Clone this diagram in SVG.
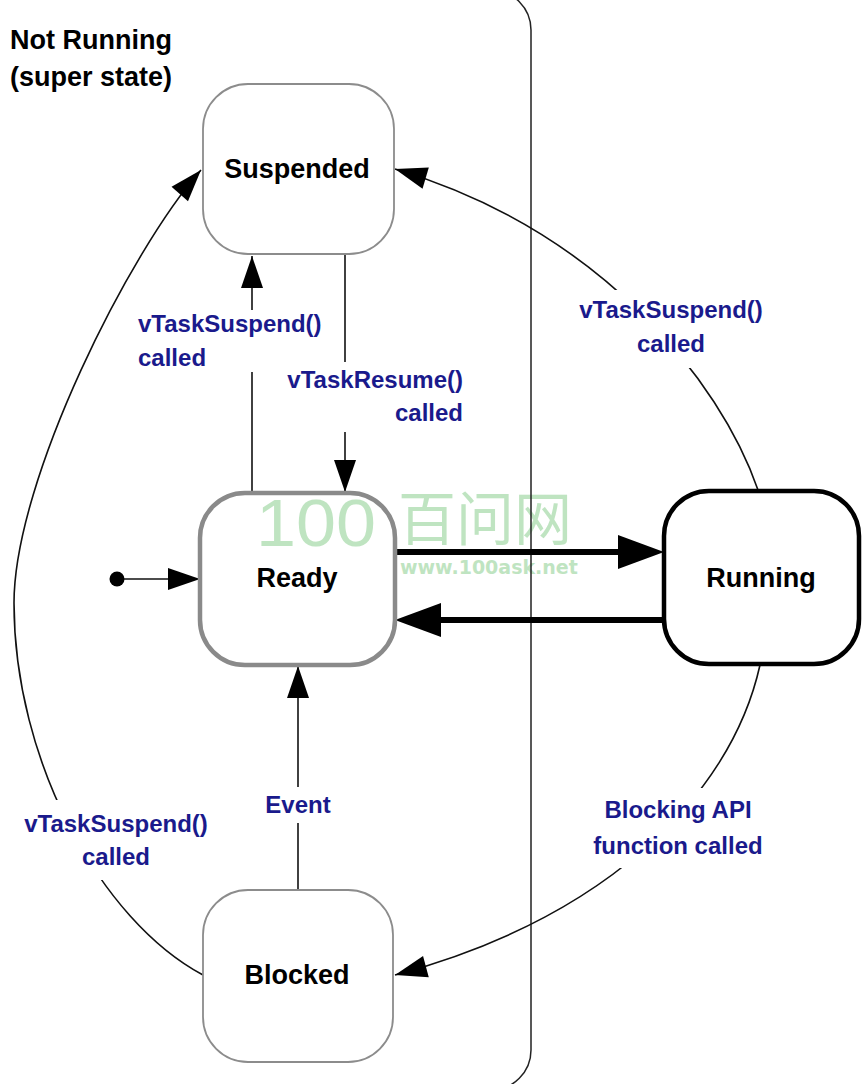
<svg xmlns="http://www.w3.org/2000/svg" width="865" height="1084" viewBox="0 0 865 1084">
<style>
.node{fill:#fff}
.nt{font-family:"Liberation Sans",Arial,sans-serif;font-weight:bold;font-size:27px;fill:#000;text-anchor:middle}
.lb{font-family:"Liberation Sans",Arial,sans-serif;font-weight:bold;font-size:24px;fill:#1a1a8c}
.bg{fill:#fff}
.c{fill:none;stroke:#111;stroke-width:1.6}
.thick{fill:none;stroke:#000;stroke-width:6}
</style>
<defs>
<marker id="a" markerUnits="userSpaceOnUse" markerWidth="32" markerHeight="24" refX="32" refY="11" orient="auto" overflow="visible">
<path d="M0,0 L32,11 L0,22 z" fill="#000"/>
</marker>
<marker id="b" markerUnits="userSpaceOnUse" markerWidth="46" markerHeight="34" refX="0" refY="17" orient="auto" overflow="visible">
<path d="M0,0 L46,17 L0,34 z" fill="#000"/>
</marker>
</defs>
<rect width="865" height="1084" fill="#fff"/>
<g id="watermark" fill="#bfe4c1">
<text x="256" y="546" font-family="Liberation Sans,sans-serif" font-size="66" textLength="120" lengthAdjust="spacingAndGlyphs">100</text>
<text x="398" y="540" font-family="Noto Sans CJK SC,sans-serif" font-size="58">百问网</text>
<text x="400" y="574" font-family="DejaVu Sans,sans-serif" font-weight="bold" font-size="19">www.100ask.net</text>
</g>
<g id="superstate">
<rect x="-60" y="-10" width="591" height="1100" rx="40" fill="none" stroke="#222" stroke-width="1.5"/>
<text x="10" y="49" font-family="Liberation Sans,Arial,sans-serif" font-weight="bold" font-size="27" fill="#000">Not Running</text>
<text x="10" y="86" font-family="Liberation Sans,Arial,sans-serif" font-weight="bold" font-size="27" fill="#000">(super state)</text>
</g>
<g id="connectors">
<circle cx="117" cy="579" r="7.5" fill="#000"/>
<path class="c" d="M124,579 L200,579" marker-end="url(#a)"/>
<path class="c" d="M252,493 L252,256" marker-end="url(#a)"/>
<path class="c" d="M345,255 L345,492" marker-end="url(#a)"/>
<path class="c" d="M298,890 L298,666" marker-end="url(#a)"/>
<path class="thick" d="M396,552 L618,552" marker-end="url(#b)"/>
<path class="thick" d="M664,620 L441,620" marker-end="url(#b)"/>
<path class="c" d="M203,975 C100,920 14,760 14,603 C14,480 130,250 201,170" marker-end="url(#a)"/>
<path class="c" d="M758,490 C720,380 600,230 395,169" marker-end="url(#a)"/>
<path class="c" d="M760,665 C730,800 600,920 395,975" marker-end="url(#a)"/>
</g>
<g id="labels">
<g id="lbl-suspend1"><rect class="bg" x="134" y="310" width="200" height="62"/>
<text class="lb" x="138" y="332">vTaskSuspend()</text><text class="lb" x="138" y="366">called</text></g>
<g id="lbl-resume"><rect class="bg" x="283" y="362" width="183" height="70"/>
<text class="lb" x="463" y="388" text-anchor="end">vTaskResume()</text><text class="lb" x="463" y="421" text-anchor="end">called</text></g>
<g id="lbl-suspend2"><rect class="bg" x="574" y="290" width="194" height="78"/>
<text class="lb" x="671" y="318" text-anchor="middle">vTaskSuspend()</text><text class="lb" x="671" y="352" text-anchor="middle">called</text></g>
<g id="lbl-event"><rect class="bg" x="262" y="787" width="72" height="36"/>
<text class="lb" x="298" y="813" text-anchor="middle">Event</text></g>
<g id="lbl-suspend3"><rect class="bg" x="18" y="800" width="196" height="80"/>
<text class="lb" x="116" y="832" text-anchor="middle">vTaskSuspend()</text><text class="lb" x="116" y="865" text-anchor="middle">called</text></g>
<g id="lbl-blocking"><rect class="bg" x="588" y="788" width="180" height="80"/>
<text class="lb" x="678" y="818" text-anchor="middle">Blocking API</text><text class="lb" x="678" y="854" text-anchor="middle">function called</text></g>
</g>
<g id="node-suspended"><rect class="node" x="203" y="84" width="191" height="170" rx="45" stroke="#8c8c8c" stroke-width="1.8"/><text class="nt" x="297" y="178">Suspended</text></g>
<g id="node-ready"><rect class="node" x="200" y="493" width="195" height="172" rx="45" stroke="#8a8a8a" stroke-width="4.5" fill-opacity="0"/><text class="nt" x="297" y="587">Ready</text></g>
<g id="node-running"><rect class="node" x="664" y="491" width="195" height="173" rx="45" stroke="#000" stroke-width="4.5"/><text class="nt" x="761" y="587">Running</text></g>
<g id="node-blocked"><rect class="node" x="203" y="890" width="190" height="172" rx="45" stroke="#8c8c8c" stroke-width="1.8"/><text class="nt" x="297" y="984">Blocked</text></g>
</svg>
